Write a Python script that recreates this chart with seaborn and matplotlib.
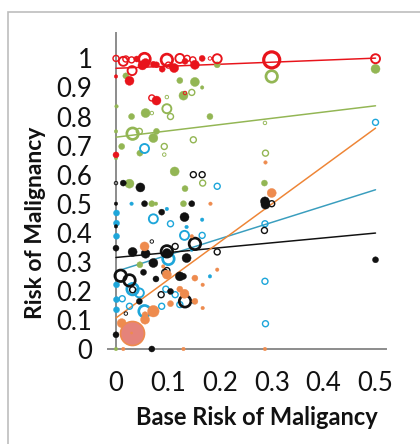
import numpy as np
import pandas as pd
import matplotlib
matplotlib.use("Agg")
import matplotlib.pyplot as plt
from matplotlib.patches import Rectangle
import seaborn as sns

sns.set_style("white")
plt.rcParams['font.family'] = ['Lato', 'DejaVu Sans']

# ---------------- data ----------------
# marker weight codes: 1 tiny, 2 small, 3 medium, 4 large, 5 very large
red_x = [0.0, 0.014, 0.019, 0.031, 0.026, 0.055, 0.057, 0.051, 0.072, 0.089, 0.098, 0.101, 0.112, 0.123,
         0.133, 0.137, 0.148, 0.152, 0.166, 0.181, 0.195, 0.300, 0.5, 0.078, 0.069, 0.133, 0.0, 0.0,
         0.040, 0.078, 0.030]
red_y = [1.0, 0.99, 0.998, 0.958, 0.923, 0.998, 0.984, 0.976, 0.98, 0.963, 0.995, 0.977, 0.967, 1.0,
         0.99, 1.0, 0.995, 0.978, 1.0, 1.0, 0.999, 0.995, 0.999, 0.855, 0.864, 0.881, 0.938, 0.668,
         0.998, 0.978, 0.995]
red_w = [2, 3, 2, 3, 3, 4, 3, 3, 2, 2, 4, 2, 3, 3, 2, 2, 2, 3, 2, 1, 3, 5, 3, 3, 2, 1, 1, 2, 2, 2, 2]
red_hollow = [1, 1, 1, 1, 0, 1, 0, 0, 0, 0, 1, 1, 0, 1, 0, 1, 1, 0, 0, 1, 1, 1, 1, 0, 1, 1, 0, 0, 0, 0, 1]

green_x = [0.019, 0.001, 0.030, 0.032, 0.045, 0.057, 0.069, 0.078, 0.072, 0.046, 0.011, 0.098, 0.105,
           0.098, 0.093, 0.093, 0.123, 0.130, 0.146, 0.152, 0.166, 0.149, 0.181, 0.195, 0.113, 0.133,
           0.026, 0.167, 0.130, 0.069, 0.077, 0.046, 0.300, 0.5, 0.287, 0.288, 0.286, 0.0, 0.0, 0.0]
green_y = [0.94, 0.835, 0.80, 0.741, 0.749, 0.812, 0.812, 0.749, 0.726, 0.674, 0.697, 0.827, 0.80,
           0.867, 0.697, 0.669, 0.924, 0.872, 0.883, 0.919, 0.90, 0.72, 0.80, 0.978, 0.611, 0.552,
           0.569, 0.571, 0.5, 0.5, 0.5, 0.29, 0.938, 0.964, 0.778, 0.674, 0.571, 0.657, 0.749, 0.0]
green_w = [2, 1, 2, 4, 2, 3, 1, 2, 3, 2, 2, 3, 2, 1, 2, 1, 2, 3, 2, 3, 1, 2, 2, 2, 3, 2,
           3, 2, 2, 2, 1, 2, 4, 3, 1, 2, 2, 1, 1, 1]
green_hollow = [0, 0, 0, 1, 1, 0, 1, 0, 0, 0, 0, 1, 1, 1, 1, 1, 0, 0, 1, 0, 0, 1, 0, 0, 0, 0,
                0, 1, 0, 0, 0, 0, 1, 0, 1, 1, 0, 0, 0, 0]

blue_x = [0.055, 0.195, 0.072, 0.098, 0.105, 0.030, 0.132, 0.166, 0.136, 0.166, 0.101, 0.146, 0.001,
          0.001, 0.001, 0.001, 0.001, 0.001, 0.032, 0.045, 0.012, 0.026, 0.055, 0.088, 0.096, 0.114,
          0.123, 0.149, 0.181, 0.287, 0.287, 0.288, 0.5]
blue_y = [0.690, 0.56, 0.448, 0.482, 0.431, 0.5, 0.391, 0.391, 0.42, 0.445, 0.31, 0.342, 0.468,
          0.433, 0.388, 0.221, 0.17, 0.135, 0.206, 0.193, 0.173, 0.147, 0.13, 0.147, 0.206, 0.187,
          0.153, 0.161, 0.25, 0.431, 0.233, 0.087, 0.78]
blue_w = [3, 2, 3, 1, 2, 1, 3, 2, 1, 1, 4, 1, 2, 2, 2, 2, 2, 2, 4, 3, 2, 2, 4, 2, 2, 2,
          2, 1, 1, 2, 2, 2, 2]
blue_hollow = [1, 1, 1, 0, 1, 0, 1, 1, 0, 0, 1, 0, 0, 0, 0, 0, 0, 0, 1, 1, 1, 1, 1, 1, 1, 1,
               1, 0, 0, 1, 1, 1, 1]

black_x = [0.0, 0.014, 0.047, 0.055, 0.088, 0.132, 0.146, 0.149, 0.166, 0.069, 0.032, 0.057, 0.098,
           0.098, 0.114, 0.136, 0.152, 0.072, 0.053, 0.094, 0.077, 0.123, 0.130, 0.009, 0.026, 0.032,
           0.019, 0.045, 0.0, 0.069, 0.087, 0.105, 0.133, 0.195, 0.0, 0.287, 0.288, 0.300, 0.286, 0.5,
           0.0, 0.0, 0.098]
black_y = [0.571, 0.571, 0.556, 0.5, 0.471, 0.454, 0.5, 0.6, 0.6, 0.37, 0.334, 0.328, 0.336,
           0.33, 0.353, 0.313, 0.362, 0.296, 0.264, 0.264, 0.241, 0.25, 0.25, 0.252, 0.236, 0.204,
           0.122, 0.164, 0.049, 0.0, 0.187, 0.198, 0.164, 0.334, 0.347, 0.508, 0.497, 0.5, 0.408, 0.307,
           0.5, 0.422, 0.27]
black_w = [1, 2, 3, 2, 2, 3, 2, 2, 2, 1, 3, 3, 4, 3, 2, 3, 4, 3, 2, 2, 2, 3, 2, 4, 4, 2,
           1, 2, 2, 2, 2, 2, 4, 2, 2, 3, 3, 2, 2, 2, 1, 1, 2]
black_hollow = [1, 0, 0, 0, 0, 0, 0, 1, 1, 1, 0, 0, 1, 0, 1, 0, 1, 0, 0, 1, 0, 0, 0, 1, 1, 1,
                1, 0, 0, 0, 1, 0, 1, 1, 0, 0, 0, 1, 1, 0, 0, 0, 1]

orange_x = [0.055, 0.288, 0.300, 0.182, 0.098, 0.123, 0.132, 0.152, 0.152, 0.167, 0.195, 0.105,
            0.072, 0.056, 0.056, 0.011, 0.046, 0.014, 0.130, 0.287, 0.091, 0.146, 0.167, 0.026]
orange_y = [0.353, 0.642, 0.537, 0.5, 0.256, 0.206, 0.19, 0.244, 0.164, 0.141, 0.273, 0.156,
            0.13, 0.101, 0.118, 0.089, 0.038, 0.0, 0.0, 0.0, 0.284, 0.388, 0.221, 0.038]
orange_w = [3, 1, 3, 1, 3, 2, 3, 2, 2, 1, 1, 2, 4, 3, 2, 3, 2, 1, 1, 1, 1, 1, 1, 1]
orange_hollow = [0] * 24

# the single very large (salmon) study
salmon_x = [0.030]
salmon_y = [0.055]

# fitted regression lines, evaluated at x = 0 and x = 0.5
line_x = [0.0, 0.5]
red_line = [0.966, 1.001]
green_line = [0.729, 0.837]
blue_line = [0.267, 0.548]
black_line = [0.315, 0.399]
orange_line = [0.107, 0.760]

x_ticks = [0, 0.1, 0.2, 0.3, 0.4, 0.5]
x_tick_labels = ["0", "0.1", "0.2", "0.3", "0.4", "0.5"]
y_ticks = [0, 0.1, 0.2, 0.3, 0.4, 0.5, 0.6, 0.7, 0.8, 0.9, 1.0]
y_tick_labels = ["0", "0.1", "0.2", "0.3", "0.4", "0.5", "0.6", "0.7", "0.8", "0.9", "1"]

series = {
    "green": (green_x, green_y, green_w, green_hollow, green_line, "#93B654", "#93B654"),
    "blue": (blue_x, blue_y, blue_w, blue_hollow, blue_line, "#1EA6DA", "#3A9EBE"),
    "black": (black_x, black_y, black_w, black_hollow, black_line, "#111111", "#111111"),
    "orange": (orange_x, orange_y, orange_w, orange_hollow, orange_line, "#EE8B4E", "#EE8536"),
    "red": (red_x, red_y, red_w, red_hollow, red_line, "#E8141B", "#E8141B"),
}

size_map = {1: 3.5, 2: 6.0, 3: 9.0, 4: 11.5, 5: 16.0}   # diameters in px
lw_map = {1: 0.9, 2: 1.4, 3: 1.9, 4: 2.7, 5: 3.2}       # ring widths in px

# ---------------- figure ----------------
W, H = 420, 444
fig = plt.figure(figsize=(W / 100, H / 100), dpi=100)
fig.patches.append(Rectangle((8 / W, -0.5), 2.0, 0.5 + 1 - 12 / H, transform=fig.transFigure,
                             facecolor="none", edgecolor="#BDBDBD", linewidth=1.2))

ax = fig.add_axes([108 / W, 1 - 349 / H, 278 / W, 316 / H])
ax.set_xlim(-0.0154, 0.5202)
ax.set_ylim(0, 1.0875)
px = 72 / 100

for name, (xs, ys, ws, hol, ln, col, lcol) in series.items():
    df = pd.DataFrame({"x": xs, "y": ys, "w": ws, "hollow": hol})
    sns.lineplot(x=line_x, y=ln, ax=ax, color=lcol, linewidth=1.5 * px, zorder=3)
    for h in (0, 1):
        sub = df[df["hollow"] == h]
        if sub.empty:
            continue
        s = [(size_map[w] * px) ** 2 for w in sub["w"]]
        lws = [lw_map[w] * px for w in sub["w"]]
        if h:
            sns.scatterplot(data=sub, x="x", y="y", ax=ax, s=s, facecolors="none",
                            edgecolor=col, linewidth=lws, legend=False, zorder=4, clip_on=False)
        else:
            sns.scatterplot(data=sub, x="x", y="y", ax=ax, s=s, color=col,
                            edgecolor=col, linewidth=0.3, legend=False, zorder=4, clip_on=False)

sns.scatterplot(x=salmon_x, y=salmon_y, ax=ax, s=(24 * px) ** 2, color="#E5837A",
                edgecolor="#EE8B4E", linewidth=1.2, legend=False, zorder=4)
sns.scatterplot(x=salmon_x, y=salmon_y, ax=ax, s=4, color="#EE8B4E", edgecolor="none",
                legend=False, zorder=5)

# axes styling
for sp in ("top", "right"):
    ax.spines[sp].set_visible(False)
ax.spines["left"].set_position(("data", 0))
for sp in ("left", "bottom"):
    ax.spines[sp].set_color("#8C8C8C")
    ax.spines[sp].set_linewidth(1.4)

ax.set_xticks(x_ticks)
ax.set_xticklabels(x_tick_labels)
ax.set_yticks(y_ticks)
ax.set_yticklabels(y_tick_labels)
ax.tick_params(axis="both", colors="#8C8C8C", labelcolor="#111111", labelsize=18.5,
               direction="out", length=6, width=1.4)
ax.tick_params(axis="x", pad=10)
ax.tick_params(axis="y", pad=11)
ax.set_xlabel("")
ax.set_ylabel("")

fig.text(257 / W, 1 - 417 / H, "Base Risk of Maligancy", ha="center", va="center",
         fontsize=17, fontweight="bold", color="#111111")
fig.text(36 / W, 1 - 223 / H, "Risk of Malignancy", ha="center", va="center", rotation=90,
         fontsize=16.5, fontweight="bold", color="#111111")

fig.savefig("out.png", dpi=100)
